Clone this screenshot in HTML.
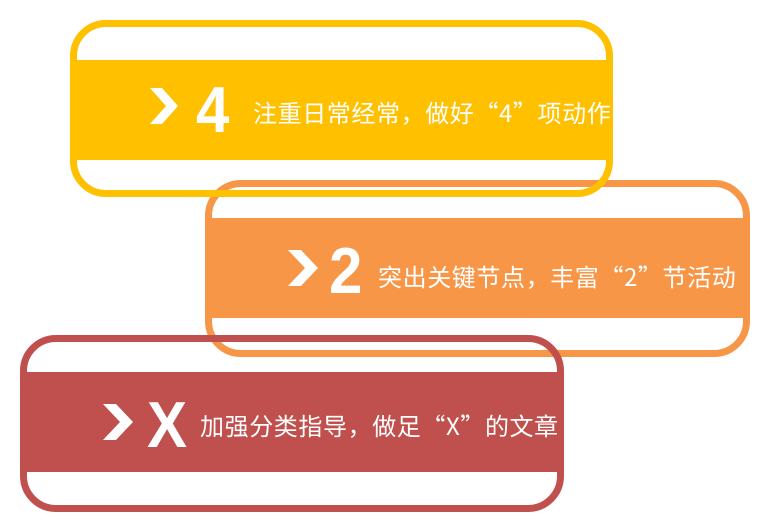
<!DOCTYPE html>
<html><head><meta charset="utf-8"><style>
body{margin:0;width:767px;height:529px;background:#fff;position:relative;overflow:hidden;font-family:"Liberation Sans","Noto Sans CJK SC",sans-serif}
.box{position:absolute;box-sizing:border-box;border:7px solid;border-radius:36px;overflow:hidden}
.band{position:absolute;left:0;right:0;height:100px}
.chev{position:absolute}
.num{position:absolute;color:#fff;font-weight:bold;font-size:60px;line-height:60px;transform:scaleY(1.08);transform-origin:top left}
.txt{position:absolute;color:#fff;font-family:"Noto Sans CJK SC",sans-serif;font-size:24px;letter-spacing:0.6px;line-height:28px;white-space:nowrap}
</style></head><body>
<div class="box" style="left:205px;top:180px;width:545px;height:177px;border-color:#F79646">
 <div class="band" style="top:31px;background:#F79646"></div>
</div>
<div class="box" style="left:70px;top:20px;width:543px;height:177px;border-color:#FFC000">
 <div class="band" style="top:33px;background:#FFC000"></div>
</div>
<div class="box" style="left:20px;top:335px;width:544px;height:177px;border-color:#C0504D">
 <div class="band" style="top:30px;background:#C0504D"></div>
</div>
<svg class="chev" style="left:150px;top:88px" width="30" height="36"><polygon points="0,0 12,0 28,18 12,36 0,36 16,18" fill="#fff"/></svg>
<div class="num" style="left:196px;top:78px">4</div>
<div class="txt" style="left:253px;top:98px;width:359px;overflow:hidden">注重日常经常，做好“4”项动作</div>
<svg class="chev" style="left:288px;top:250px" width="32" height="36"><polygon points="0,0 13,0 30,18 13,36 0,36 17,18" fill="#fff"/></svg>
<div class="num" style="left:329px;top:239px">2</div>
<div class="txt" style="left:378px;top:262px;width:365px;overflow:hidden">突出关键节点，丰富“2”节活动</div>
<svg class="chev" style="left:103px;top:404px" width="32" height="36"><polygon points="0,0 13,0 30,18 13,36 0,36 17,18" fill="#fff"/></svg>
<div class="num" style="left:147px;top:393px">X</div>
<div class="txt" style="left:200px;top:411px;width:358px;overflow:hidden">加强分类指导，做足“X”的文章</div>
</body></html>
